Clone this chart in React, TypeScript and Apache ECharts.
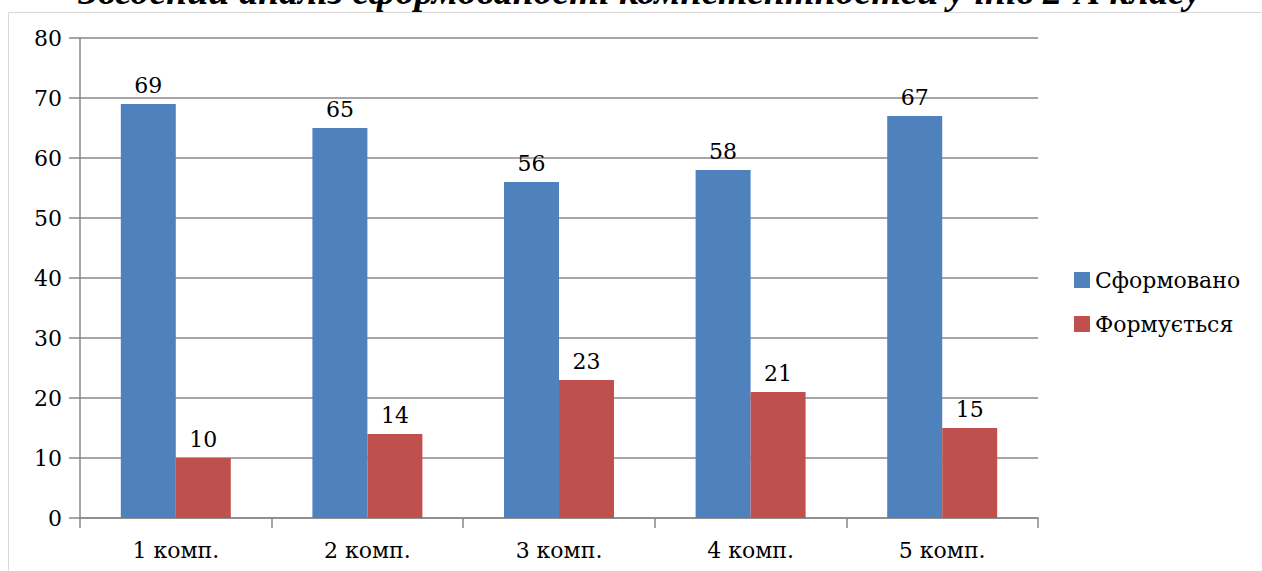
import React, { useEffect, useRef } from "react";
import * as echarts from "echarts";

const categories = ["1 комп.", "2 комп.", "3 комп.", "4 комп.", "5 комп."];
const formed = [69, 65, 56, 58, 67];
const forming = [10, 14, 23, 21, 15];
const seriesNames = ["Сформовано", "Формується"];
const titleText = "Зведений аналіз сформованості компетентностей учнів 2-А класу";

const FONT = "DejaVu Serif";

export default function App() {
  const ref = useRef<HTMLDivElement>(null);
  useEffect(() => {
    const chart = echarts.init(ref.current!, null, { renderer: "svg" });
    const labelStyle = {
      show: true,
      position: "top" as const,
      distance: 8,
      color: "#000",
      fontFamily: FONT,
      fontSize: 22,
    };
    chart.setOption({
      animation: false,
      backgroundColor: "#fff",
      graphic: [
        {
          type: "rect",
          shape: { x: 8.5, y: 12.5, width: 1300, height: 600 },
          style: { fill: "none", stroke: "#d9d9d9", lineWidth: 1 },
          silent: true,
          z: -1,
        },
        {
          type: "text",
          x: 640,
          y: 10,
          style: {
            text: titleText,
            fontFamily: "Liberation Serif",
            fontWeight: "bold",
            fontStyle: "italic",
            fontSize: 38,
            fill: "#000",
            textAlign: "center",
            textVerticalAlign: "bottom",
          },
        },
      ],
      legend: {
        orient: "vertical",
        left: 1069,
        top: 264,
        itemWidth: 16,
        itemHeight: 16,
        itemGap: 22,
        icon: "rect",
        textStyle: { fontFamily: FONT, fontSize: 22, color: "#000" },
        data: seriesNames,
      },
      grid: { left: 80, right: 224, top: 38, bottom: 53 },
      xAxis: {
        type: "category",
        data: categories,
        axisLine: { lineStyle: { color: "#898989", width: 1.5 } },
        axisTick: { show: true, length: 10, lineStyle: { color: "#898989", width: 1.5 } },
        axisLabel: { color: "#000", fontFamily: FONT, fontSize: 22, margin: 21 },
      },
      yAxis: {
        type: "value",
        min: 0,
        max: 80,
        interval: 10,
        axisLine: { show: true, lineStyle: { color: "#898989", width: 1.5 } },
        axisTick: { show: true, length: 11, lineStyle: { color: "#898989", width: 1.5 } },
        splitLine: { lineStyle: { color: "#898989", width: 1.5 } },
        axisLabel: { color: "#000", fontFamily: FONT, fontSize: 22, margin: 18 },
      },
      series: [
        {
          name: seriesNames[0],
          type: "bar",
          data: formed,
          itemStyle: { color: "#4F81BD" },
          barGap: "0%",
          barCategoryGap: "42.6%",
          label: labelStyle,
        },
        {
          name: seriesNames[1],
          type: "bar",
          data: forming,
          itemStyle: { color: "#C0504D" },
          label: labelStyle,
        },
      ],
    });
    return () => chart.dispose();
  }, []);
  return <div ref={ref} style={{ width: 1262, height: 571, position: "absolute", left: 0, top: 0 }} />;
}
